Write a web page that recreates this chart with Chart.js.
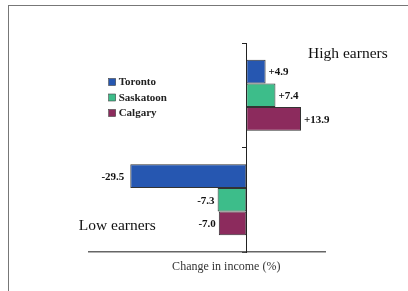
<!DOCTYPE html>
<html><head><meta charset="utf-8">
<script src="https://cdn.jsdelivr.net/npm/chart.js@4/dist/chart.umd.min.js"></script>
<style>
html,body{margin:0;padding:0;background:#fff;}
#wrap{position:relative;width:408px;height:291px;overflow:hidden;}
#frame{position:absolute;left:8px;top:5px;width:420px;height:300px;border-left:1.5px solid #777;border-top:1.5px solid #777;}
canvas{position:absolute;left:0;top:0;}
</style></head>
<body><div id="wrap"><div id="frame"></div><canvas id="c" width="408" height="291"></canvas></div>
<script>
const categories = ['High earners', 'Low earners'];
const cities = ['Toronto', 'Saskatoon', 'Calgary'];
const toronto = [4.9, -29.5];
const saskatoon = [7.4, -7.3];
const calgary = [13.9, -7.0];
const valueLabels = [['+4.9', '-29.5'], ['+7.4', '-7.3'], ['+13.9', '-7.0']];
const axisTitle = 'Change in income (%)';
const colors = ['#2657b1', '#3dbd8a', '#8c2b5d'];

const serif = '"Liberation Serif", "Times New Roman", serif';

const overlay = {
  id: 'overlay',
  afterDatasetsDraw(chart) {
    const ctx = chart.ctx;
    const xs = chart.scales.x, ys = chart.scales.y;
    ctx.save();
    // value labels
    ctx.font = 'bold 11px ' + serif;
    ctx.fillStyle = '#111';
    ctx.textBaseline = 'middle';
    chart.data.datasets.forEach((ds, di) => {
      const meta = chart.getDatasetMeta(di);
      meta.data.forEach((bar, i) => {
        const v = ds.data[i];
        const txt = valueLabels[di][i];
        if (v >= 0) { ctx.textAlign = 'left'; ctx.fillText(txt, bar.x + 3, bar.y + 1); }
        else { ctx.textAlign = 'right'; ctx.fillText(txt, bar.x - (v < -20 ? 6 : 3), bar.y + 1); }
      });
    });
    // category labels
    ctx.font = '15.5px ' + serif;
    ctx.fillStyle = '#111';
    ctx.textAlign = 'left';
    ctx.fillText(categories[0], xs.getPixelForValue(15.7), ys.top + 11);
    ctx.fillText(categories[1], xs.getPixelForValue(-42.6), ys.bottom - 26);
    // axis title
    ctx.font = '12px ' + serif;
    ctx.fillStyle = '#333';
    ctx.textAlign = 'center';
    ctx.fillText(axisTitle, xs.getPixelForValue(-5.1), ys.bottom + 15);
    // legend
    ctx.font = 'bold 11px ' + serif;
    ctx.textAlign = 'left';
    const lx = xs.getPixelForValue(-35);
    chart.data.datasets.forEach((ds, di) => {
      const y = ys.top + 39 + di * 15.5;
      ctx.fillStyle = ds.backgroundColor;
      ctx.fillRect(lx, y - 3.5, 7, 7);
      ctx.strokeStyle = '#444'; ctx.lineWidth = 0.6;
      ctx.strokeRect(lx, y - 3.5, 7, 7);
      ctx.fillStyle = '#222';
      ctx.fillText(ds.label, lx + 10, y + 0.5);
    });
    ctx.restore();
  }
};

new Chart(document.getElementById('c'), {
  type: 'bar',
  data: {
    labels: categories,
    datasets: [
      { label: cities[0], data: toronto, backgroundColor: colors[0] },
      { label: cities[1], data: saskatoon, backgroundColor: colors[1] },
      { label: cities[2], data: calgary, backgroundColor: colors[2] }
    ].map(d => Object.assign(d, { borderColor: '#333', borderWidth: 1, borderSkipped: false }))
  },
  options: {
    indexAxis: 'y',
    responsive: false,
    animation: false,
    devicePixelRatio: 1,
    layout: { padding: { left: 89, right: 83, top: 43, bottom: 39 } },
    categoryPercentage: 0.68,
    barPercentage: 1.0,
    plugins: { legend: { display: false }, tooltip: { enabled: false } },
    scales: {
      x: {
        min: -40, max: 20,
        grid: { display: false, drawTicks: false },
        ticks: { display: false },
        border: { display: true, color: '#666', width: 1.5 }
      },
      y: {
        position: { x: 0 },
        grid: { drawOnChartArea: false, drawTicks: true, tickLength: 4, color: '#222' },
        ticks: { display: false },
        border: { display: true, color: '#222', width: 1 }
      }
    }
  },
  plugins: [overlay]
});
</script></body></html>
